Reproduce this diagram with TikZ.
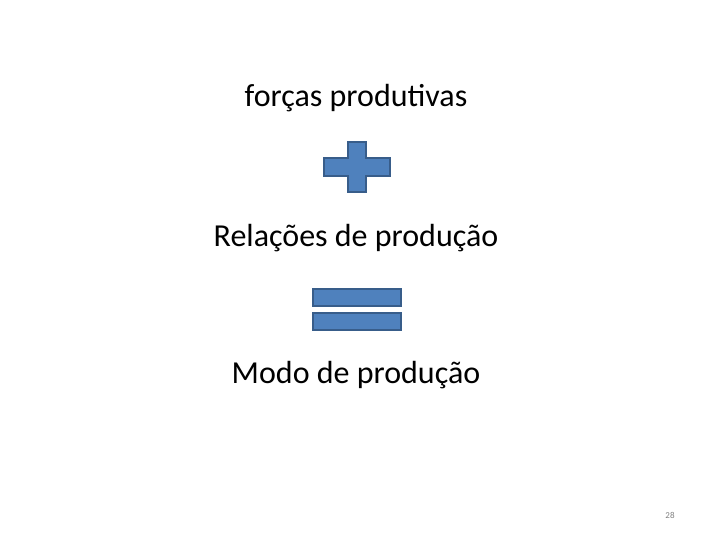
\documentclass[tikz,border=0pt]{standalone}
\usepackage{fontspec}
\setmainfont{Carlito}
\definecolor{accfill}{HTML}{4F81BD}
\definecolor{accline}{HTML}{385D8A}
\tikzset{
  lbl/.style={font=\fontsize{32}{38}\selectfont, inner sep=0pt, anchor=base},
  sym/.style={fill=accfill, draw=accline, line width=2.5pt, line join=miter},
}
\begin{document}
\begin{tikzpicture}[x=1pt,y=-1pt]
\useasboundingbox[fill=white] (0,0) rectangle (720,540);
\node[lbl] (fp) at (356,107) {forças produtivas};
\node[lbl] (rp) at (356,246) {Relações de produção};
\node[lbl] (mp) at (356,383) {Modo de produção};
\draw[sym] (348,142) -- (366,142) -- (366,158) -- (390,158) -- (390,176) -- (366,176) -- (366,192) -- (348,192) -- (348,176) -- (324,176) -- (324,158) -- (348,158) -- cycle;
\draw[sym] (313,289) rectangle (401,306);
\draw[sym] (313,313) rectangle (401,330);
\node[font=\fontsize{9}{11}\selectfont, text=gray, inner sep=0pt, anchor=base] (pg) at (670,518) {28};
\end{tikzpicture}
\end{document}
